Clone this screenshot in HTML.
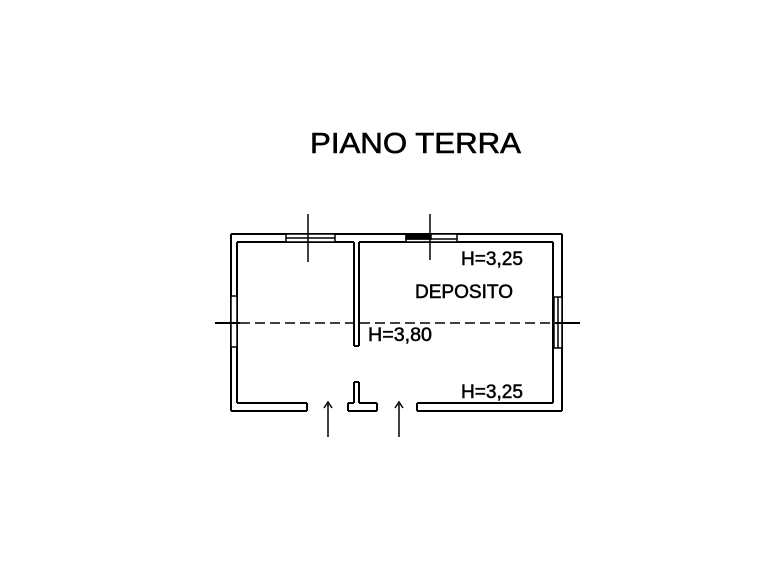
<!DOCTYPE html>
<html><head><style>html,body{margin:0;padding:0;background:#fff;}svg{display:block}</style></head>
<body>
<svg width="782" height="587" viewBox="0 0 782 587" xmlns="http://www.w3.org/2000/svg" font-family="Liberation Sans, Arial, sans-serif">
<rect width="782" height="587" fill="#fff"/>
<text x="310" y="153" font-size="29" textLength="211" lengthAdjust="spacingAndGlyphs" stroke="#000" stroke-width="0.6">PIANO TERRA</text>
<g stroke="#000" stroke-width="2" fill="none">
<line x1="231" y1="234" x2="562" y2="234"/>
<line x1="231" y1="234" x2="231" y2="411"/>
<line x1="562" y1="234" x2="562" y2="411"/>
<line x1="231" y1="411" x2="307" y2="411"/>
<line x1="307" y1="411" x2="307" y2="403"/>
<line x1="348" y1="411" x2="377" y2="411"/>
<line x1="348" y1="411" x2="348" y2="403"/>
<line x1="377" y1="411" x2="377" y2="403"/>
<line x1="417" y1="411" x2="562" y2="411"/>
<line x1="417" y1="411" x2="417" y2="403"/>
<line x1="237" y1="242" x2="354" y2="242"/>
<line x1="359" y1="242" x2="553" y2="242"/>
<line x1="237" y1="242" x2="237" y2="403"/>
<line x1="553" y1="242" x2="553" y2="403"/>
<line x1="237" y1="403" x2="307" y2="403"/>
<line x1="417" y1="403" x2="553" y2="403"/>
<line x1="348" y1="403" x2="354" y2="403"/>
<line x1="359" y1="403" x2="377" y2="403"/>
<line x1="354" y1="242" x2="354" y2="346"/>
<line x1="359" y1="242" x2="359" y2="346"/>
<line x1="354" y1="346" x2="359" y2="346"/>
<line x1="354" y1="382" x2="354" y2="403"/>
<line x1="359" y1="382" x2="359" y2="403"/>
<line x1="354" y1="382" x2="359" y2="382"/>
</g>
<g stroke="#000" stroke-width="1.5" fill="#fff">
<rect x="286" y="234" width="49" height="8"/>
<line x1="286" y1="238" x2="335" y2="238"/>
<rect x="406" y="234" width="51" height="8"/>
<rect x="406" y="235" width="25" height="4" fill="#000"/>
<line x1="406" y1="239" x2="457" y2="239"/>
<rect x="231" y="296" width="6" height="51"/>
<rect x="554" y="297" width="8" height="51"/>
<line x1="558" y1="297" x2="558" y2="348"/>
</g>
<g stroke="#000" stroke-width="1.5" fill="none">
<line x1="215" y1="323" x2="240" y2="323" stroke-width="2"/>
<line x1="240" y1="323" x2="555" y2="323" stroke-dasharray="10,5"/>
<line x1="555" y1="323" x2="580" y2="323" stroke-width="2"/>
<line x1="308" y1="214" x2="308" y2="262"/>
<line x1="430" y1="214" x2="430" y2="260"/>
<line x1="328" y1="404" x2="328" y2="437"/>
<polyline points="324,408 328,402 332,408"/>
<line x1="399" y1="404" x2="399" y2="437"/>
<polyline points="395,408 399,402 403,408"/>
</g>
<g font-size="19" fill="#000" stroke="#000" stroke-width="0.5" lengthAdjust="spacingAndGlyphs">
<text x="461" y="265" textLength="62" lengthAdjust="spacingAndGlyphs">H=3,25</text>
<text x="415" y="298" textLength="98" lengthAdjust="spacingAndGlyphs">DEPOSITO</text>
<text x="368" y="341" textLength="64" lengthAdjust="spacingAndGlyphs">H=3,80</text>
<text x="461" y="398" textLength="62" lengthAdjust="spacingAndGlyphs">H=3,25</text>
</g>
</svg>
</body></html>
